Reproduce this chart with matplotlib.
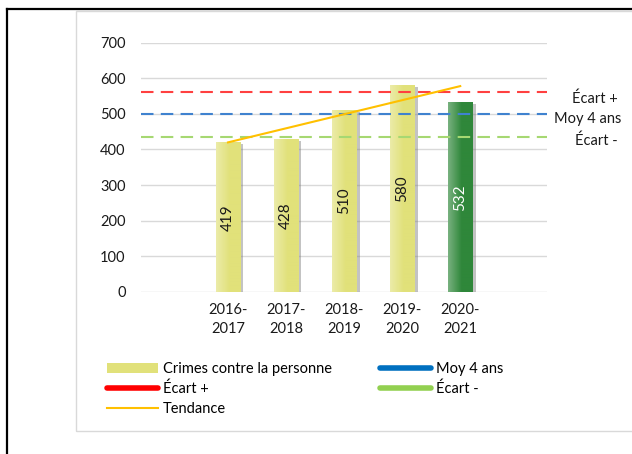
import matplotlib
matplotlib.use('Agg')
import matplotlib.pyplot as plt
import numpy as np
from matplotlib.lines import Line2D
from matplotlib.patches import Patch, Rectangle
from matplotlib.colors import to_rgb

plt.rcParams['font.family'] = ['Lato', 'DejaVu Sans']

# data
saisons = ['2016-\n2017', '2017-\n2018', '2018-\n2019', '2019-\n2020', '2020-\n2021']
crimes = [419, 428, 510, 580, 532]
moy_4_ans = 499
ecart_plus = 562
ecart_moins = 436
tendance = [420, 578]  # start / end of the trend line (first and last season)

yellow = '#E1E17A'
green_bar = '#2F873A'
bar_colors = [yellow, yellow, yellow, yellow, green_bar]
label_colors = ['#1a1a1a'] * 4 + ['white']

fig = plt.figure(figsize=(6.32, 4.54), dpi=100)

# outer frame (black) and chart box (gray)
fig.add_artist(Line2D([0.011, 0.011], [0.0, 0.981], color='black', lw=1.6, transform=fig.transFigure))
fig.add_artist(Line2D([0.011, 1.0], [0.981, 0.981], color='black', lw=1.6, transform=fig.transFigure))
fig.add_artist(Rectangle((0.120, 0.051), 0.95, 0.925, fill=False, edgecolor='#D9D9D9', lw=1.0,
                         transform=fig.transFigure))

ax = fig.add_axes([0.223, 0.357, 0.643, 0.549])
x = np.arange(len(crimes))
w = 0.43

# shadows
ax.bar(x + 0.05, np.array(crimes) - 4, width=w, color='#7a7a7a', alpha=0.45, zorder=2)
bars = ax.bar(x, crimes, width=w, color=bar_colors, zorder=3)

# light gradient on the left side of each bar
for xi, h, c in zip(x, crimes, bar_colors):
    base = np.array(to_rgb(c))
    light = base + (1 - base) * 0.35
    t = np.clip(np.linspace(0, 1, 50) / 0.55, 0, 1)
    grad = light[None, :] * (1 - t[:, None]) + base[None, :] * t[:, None]
    ax.imshow(grad[None, :, :], extent=[xi - w / 2, xi + w / 2, 0, h], aspect='auto', zorder=3.5)

for xi, h, lc in zip(x, crimes, label_colors):
    ax.text(xi, h / 2, str(h), rotation=90, ha='center', va='center', fontsize=11, color=lc, zorder=5)

ax.axhline(ecart_plus, color='#FF4040', lw=1.5, dashes=(6, 3.5), zorder=4)
ax.axhline(moy_4_ans, color='#3F82CF', lw=1.5, dashes=(6, 3.5), zorder=4)
ax.axhline(ecart_moins, color='#A6D872', lw=1.5, dashes=(6, 3.5), zorder=4)
ax.plot([x[0], x[-1]], tendance, color='#FFC000', lw=1.5, zorder=6)

ax.set_xlim(-1.5, 5.5)
ax.set_ylim(0, 700)
ax.set_yticks(range(0, 701, 100))
ax.set_xticks(x)
ax.set_xticklabels(saisons, fontsize=10.5, color='#1a1a1a', linespacing=1.45)
ax.tick_params(axis='y', labelsize=10.5, colors='#1a1a1a', length=0, pad=11)
ax.tick_params(axis='x', length=0, pad=8)
ax.grid(axis='y', color='#D9D9D9', lw=1.0, zorder=0)
ax.set_axisbelow(True)
for s in ax.spines.values():
    s.set_visible(False)

fig.text(0.978, 0.782, 'Écart +', ha='right', va='center', fontsize=10.5, color='#1a1a1a')
fig.text(0.983, 0.738, 'Moy 4 ans', ha='right', va='center', fontsize=10.5, color='#1a1a1a')
fig.text(0.978, 0.690, 'Écart -', ha='right', va='center', fontsize=10.5, color='#1a1a1a')

handles = [
    Patch(facecolor=yellow, edgecolor='none'),
    Line2D([], [], color='#FF0000', lw=4, solid_capstyle='round'),
    Line2D([], [], color='#FFC000', lw=1.5),
    Line2D([], [], color='#0070C0', lw=4, solid_capstyle='round'),
    Line2D([], [], color='#92D050', lw=4, solid_capstyle='round'),
]
labels = ['Crimes contre la personne', 'Écart +', 'Tendance', 'Moy 4 ans', 'Écart -']
fig.legend(handles, labels, ncol=2, loc='upper left', bbox_to_anchor=(0.160, 0.215),
           frameon=False, fontsize=10.5, handlelength=3.5, handletextpad=0.35,
           columnspacing=3.3, labelspacing=0.38, borderaxespad=0)

plt.savefig('out.png', dpi=100)
